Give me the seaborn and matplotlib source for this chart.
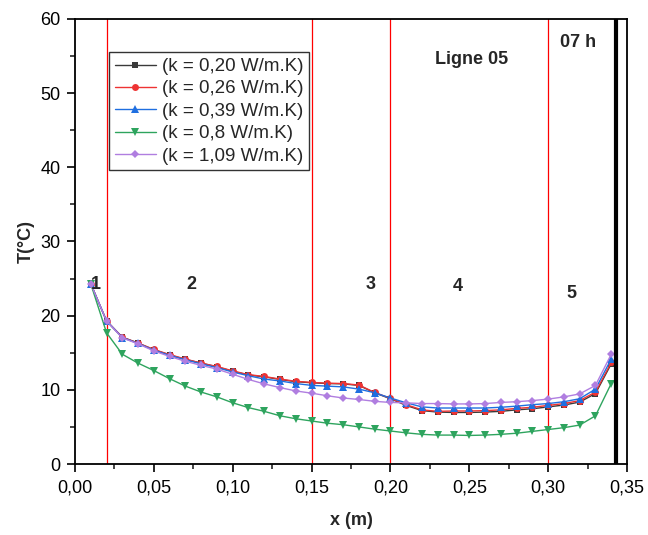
import numpy as np
import pandas as pd
import matplotlib
matplotlib.use("Agg")
import matplotlib.pyplot as plt
from matplotlib.ticker import FuncFormatter, MultipleLocator
import seaborn as sns

x_m = [0.01, 0.02, 0.03, 0.04, 0.05, 0.06, 0.07, 0.08, 0.09, 0.10, 0.11, 0.12,
       0.13, 0.14, 0.15, 0.16, 0.17, 0.18, 0.19, 0.20, 0.21, 0.22, 0.23, 0.24,
       0.25, 0.26, 0.27, 0.28, 0.29, 0.30, 0.31, 0.32, 0.33, 0.34]

t_k020 = [24.3, 19.3, 17.1, 16.3, 15.4, 14.7, 14.1, 13.6, 13.1, 12.5, 12.0, 11.75,
          11.4, 11.1, 10.95, 10.85, 10.8, 10.6, 9.6, 8.8, 7.9, 7.2, 7.0, 6.95,
          6.95, 7.0, 7.1, 7.3, 7.45, 7.7, 7.95, 8.35, 9.5, 13.5]
t_k026 = [24.3, 19.3, 17.1, 16.3, 15.45, 14.75, 14.15, 13.6, 13.15, 12.55, 12.05, 11.8,
          11.45, 11.15, 11.0, 10.9, 10.85, 10.65, 9.65, 8.85, 8.0, 7.3, 7.1, 7.15,
          7.15, 7.2, 7.3, 7.5, 7.65, 7.9, 8.15, 8.55, 9.7, 13.7]
t_k039 = [24.3, 19.3, 17.05, 16.25, 15.35, 14.65, 14.05, 13.5, 13.0, 12.4, 11.9, 11.45,
          11.2, 10.85, 10.6, 10.5, 10.4, 10.1, 9.6, 8.9, 8.25, 7.7, 7.55, 7.55,
          7.55, 7.55, 7.65, 7.8, 8.0, 8.15, 8.4, 8.8, 10.1, 14.15]
t_k080 = [24.3, 17.7, 14.8, 13.6, 12.6, 11.5, 10.5, 9.7, 9.05, 8.25, 7.6, 7.1,
          6.5, 6.1, 5.8, 5.5, 5.3, 5.0, 4.7, 4.45, 4.2, 4.0, 3.9, 3.9,
          3.85, 3.9, 4.0, 4.15, 4.4, 4.65, 4.9, 5.25, 6.5, 10.85]
t_k109 = [24.3, 19.3, 17.0, 16.2, 15.25, 14.5, 13.85, 13.3, 12.8, 12.1, 11.4, 10.8,
          10.3, 9.85, 9.55, 9.2, 8.9, 8.7, 8.45, 8.3, 8.25, 8.15, 8.15, 8.1,
          8.1, 8.15, 8.3, 8.4, 8.55, 8.75, 9.05, 9.45, 10.6, 14.8]

series_labels = ["(k = 0,20 W/m.K)", "(k = 0,26 W/m.K)", "(k = 0,39 W/m.K)",
                 "(k = 0,8 W/m.K)", "(k = 1,09 W/m.K)"]
zone_bounds = [0.02, 0.15, 0.20, 0.30]
zone_labels = ["1", "2", "3", "4", "5"]
zone_label_x = [0.013, 0.074, 0.1876, 0.2427, 0.315]
zone_label_y = [24.2, 24.2, 24.2, 23.9, 23.0]
wall_x = 0.3428

series_values = [t_k020, t_k026, t_k039, t_k080, t_k109]
rows = []
for lab, vals in zip(series_labels, series_values):
    for xv, tv in zip(x_m, vals):
        rows.append({"x": xv, "T": tv, "k": lab})
df = pd.DataFrame(rows)

sns.set_style("ticks")
plt.rcParams['font.family'] = ['Liberation Sans', 'DejaVu Sans']

fig = plt.figure(figsize=(6.48, 5.35), dpi=100)
ax = fig.add_axes([0.1157, 0.1327, 0.8519, 0.8318])

colors = ["#3a3a3a", "#ee3333", "#1f6fe0", "#2ea45e", "#b07ee0"]
markers = ["s", "o", "^", "v", "D"]
msizes = [4.5, 5, 5.5, 5.5, 4.5]
for lab, c, m, ms in zip(series_labels, colors, markers, msizes):
    sub = df[df["k"] == lab]
    sns.lineplot(data=sub, x="x", y="T", ax=ax, color=c, marker=m,
                 markersize=ms, markeredgewidth=0, linewidth=1.0, label=lab)

for zb in zone_bounds:
    ax.axvline(zb, color="red", linewidth=0.9, zorder=1)
ax.axvline(wall_x, color="black", linewidth=3.0, zorder=3)

fs = 13
for zl, zx, zy in zip(zone_labels, zone_label_x, zone_label_y):
    ax.text(zx, zy, zl, fontsize=fs, fontweight="bold", ha="center", va="center")
ax.text(0.2516, 54.6, "Ligne 05", fontsize=fs, fontweight="bold", ha="center", va="center")
ax.text(0.3188, 56.8, "07 h", fontsize=fs, fontweight="bold", ha="center", va="center")

ax.set_xlim(0, 0.35)
ax.set_ylim(0, 60)
ax.xaxis.set_major_locator(MultipleLocator(0.05))
ax.xaxis.set_minor_locator(MultipleLocator(0.025))
ax.yaxis.set_major_locator(MultipleLocator(10))
ax.yaxis.set_minor_locator(MultipleLocator(5))
ax.xaxis.set_major_formatter(FuncFormatter(lambda v, p: f"{v:.2f}".replace(".", ",")))
ax.yaxis.set_major_formatter(FuncFormatter(lambda v, p: f"{v:.0f}"))
ax.tick_params(axis="both", which="major", direction="out", length=6, width=1.2,
               labelsize=fs, colors="black")
ax.tick_params(axis="x", which="major", pad=5)
ax.tick_params(axis="y", which="major", pad=4.5)
ax.tick_params(axis="both", which="minor", direction="out", length=3.5, width=1.2)
for sp in ax.spines.values():
    sp.set_linewidth(1.3)
    sp.set_color("black")

ax.set_xlabel("x (m)", fontsize=fs, fontweight="bold", labelpad=11)
ax.set_ylabel("T(°C)", fontsize=fs, fontweight="bold", labelpad=4)

leg = ax.legend(loc="upper left", bbox_to_anchor=(0.062, 0.925), frameon=True,
                fontsize=13.5, handlelength=2.2, handletextpad=0.3,
                borderpad=0.3, labelspacing=0.28, fancybox=False, borderaxespad=0)
leg.get_frame().set_edgecolor("black")
leg.get_frame().set_linewidth(1.0)

fig.savefig("out.png", dpi=100)
